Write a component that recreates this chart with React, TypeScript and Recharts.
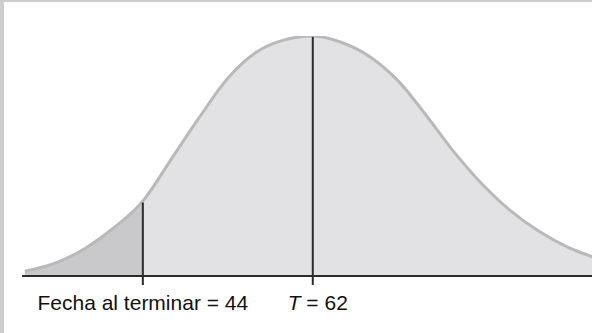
import React from "react";
import { ComposedChart, Area, Line, XAxis, YAxis, ReferenceLine } from "recharts";

// Project duration (x) and relative height of the distribution curve (% of peak)
const durations = [31.5, 35, 38, 41, 44, 47, 50, 53, 56, 59, 62, 65, 68, 71, 74, 77, 80, 83, 86, 89, 92];
const heights = [2.0, 5.8, 11.8, 20.3, 31.2, 48.6, 66.2, 82.4, 93.2, 98.4, 100, 97.4, 91.5, 81.5, 67.0, 51.5, 38.0, 27.0, 18.5, 12.0, 7.5];

const dueDate = 44;
const expected = 62;
const tickValues = [dueDate, expected];
const dueLabel = "Fecha al terminar = 44";
const expectedLabelVar = "T";
const expectedLabelRest = " = 62";

const data = durations.map((x, i) => ({
  x,
  h: heights[i],
  tail: x <= dueDate ? heights[i] : null,
}));

const heightAt = (v: number) => {
  const p = data.find((d) => d.x === v);
  return p ? p.h : 0;
};

const FONT = "'Liberation Sans', Arial, Helvetica, sans-serif";

const Tick = (props: any) => {
  const { x, payload } = props;
  const v = payload.value;
  if (v === dueDate) {
    return (
      <text x={x} y={309.5} textAnchor="middle" fontFamily={FONT} fontSize={21} fill="#111">
        {dueLabel}
      </text>
    );
  }
  return (
    <text x={x + 5} y={309.5} textAnchor="middle" fontFamily={FONT} fontSize={21} fill="#111">
      <tspan fontStyle="italic">{expectedLabelVar}</tspan>
      {expectedLabelRest}
    </text>
  );
};

export default function App() {
  return (
    <div
      style={{
        position: "fixed",
        left: 0,
        top: 0,
        width: 592,
        height: 333,
        overflow: "hidden",
        background: "#ffffff",
      }}
    >
      <div style={{ position: "absolute", left: 0, top: 0 }}>
        <ComposedChart
          width={596}
          height={333}
          data={data}
          margin={{ top: 36, right: 0, left: 22, bottom: 0 }}
        >
          <XAxis
            type="number"
            dataKey="x"
            domain={[31.2, 92]}
            allowDataOverflow
            ticks={tickValues}
            axisLine={false}
            tickLine={false}
            height={48}
            tick={<Tick />}
            interval={0}
          />
          <YAxis hide type="number" domain={[-3.75, 100]} allowDataOverflow />
          <Area
            type="monotone"
            dataKey="h"
            baseValue={0}
            fill="#e2e2e4"
            fillOpacity={1}
            stroke="none"
            isAnimationActive={false}
            dot={false}
            activeDot={false}
          />
          <Area
            type="monotone"
            dataKey="tail"
            baseValue={0}
            fill="#c9c9cb"
            fillOpacity={1}
            stroke="none"
            isAnimationActive={false}
            dot={false}
            activeDot={false}
          />
          <Line
            type="monotone"
            dataKey="h"
            stroke="#b9b9b9"
            strokeWidth={3}
            dot={false}
            activeDot={false}
            isAnimationActive={false}
          />
          <ReferenceLine y={0} stroke="#2b2b2b" strokeWidth={2} />
          <ReferenceLine
            segment={[
              { x: dueDate, y: -3.75 },
              { x: dueDate, y: heightAt(dueDate) - 0.6 },
            ]}
            stroke="#2b2b2b"
            strokeWidth={2}
          />
          <ReferenceLine
            segment={[
              { x: expected, y: -3.75 },
              { x: expected, y: heightAt(expected) - 0.4 },
            ]}
            stroke="#2b2b2b"
            strokeWidth={2}
          />
        </ComposedChart>
      </div>
      <div
        style={{
          position: "absolute",
          left: 0,
          top: 0,
          width: 592,
          height: 2,
          background: "#cdcdcd",
        }}
      />
      <div
        style={{
          position: "absolute",
          left: 0,
          top: 0,
          width: 4,
          height: 333,
          background: "#cdcdcd",
        }}
      />
    </div>
  );
}
